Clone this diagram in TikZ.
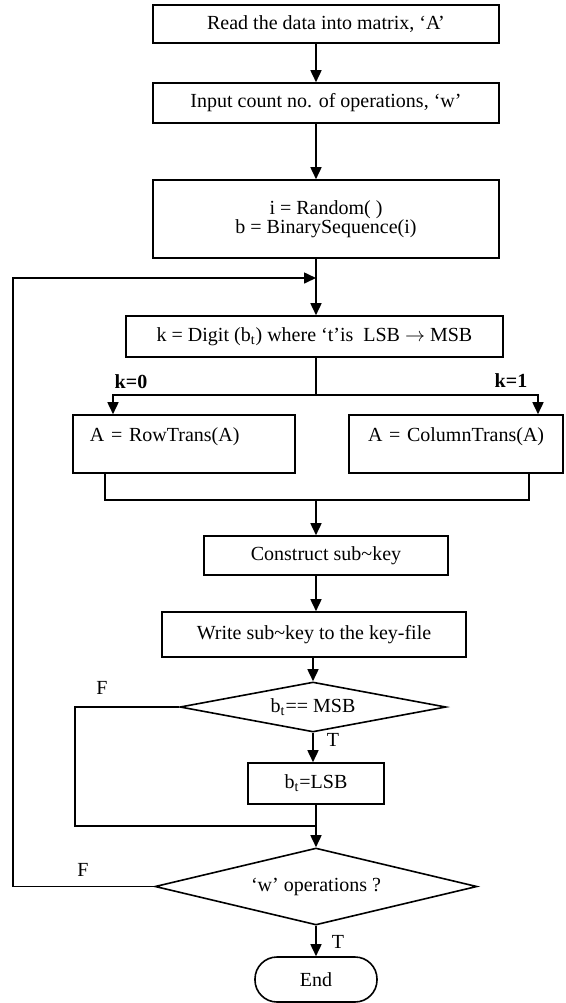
\documentclass[tikz,border=0pt]{standalone}
\usepackage{fontspec}
\setmainfont{Liberation Serif}
\usetikzlibrary{arrows.meta,shapes.geometric}
\tikzset{
    box/.style={draw, line width=0.8pt, inner sep=0pt},
    cond/.style={draw, diamond, line width=0.8pt, inner sep=0pt},
    trans/.style={draw, line width=0.8pt, inner ysep=3pt, text height=10pt, text depth=13pt, align=left},
    conn/.style={line width=0.8pt},
    arr/.style={conn, -{Triangle[length=6pt, width=5.5pt]}},
}
\begin{document}
\begin{tikzpicture}[x=0.5pt, y=-0.5pt]
    \useasboundingbox (0, 0) rectangle (566, 1003);

    \node[box, minimum width=173pt, minimum height=19pt] (read) at (326, 24) {Read the data into matrix, ‘A’};
    \node[box, minimum width=173pt, minimum height=20pt] (count) at (326, 103) {Input count no. of operations, ‘w’};
    \node[box, minimum width=173pt, minimum height=39pt, align=center] (rand) at (326, 219) {i = Random( )\\[-2.5pt]b = BinarySequence(i)};
    \node[box, minimum width=188.5pt, minimum height=20.5pt] (digit) at (314.5, 336.5) {k = Digit (b\textsubscript{t}) where ‘t’is\ \ LSB $\rightarrow$ MSB};
    \node[trans, text width=94pt, inner xsep=8.5pt] (row) at (184, 444) {\mbox{A = RowTrans(A)}};
    \node[trans, text width=88pt, inner xsep=9.5pt] (col) at (456, 444) {\mbox{A = ColumnTrans(A)}};
    \node[box, minimum width=122pt, minimum height=19.5pt] (construct) at (326, 555.5) {Construct sub\textasciitilde key};
    \node[box, minimum width=152pt, minimum height=22.5pt] (write) at (314, 634.5) {Write sub\textasciitilde key to the key-file};
    \node[cond, aspect=5.3, minimum width=133pt, minimum height=25pt] (msb) at (313, 707) {b\textsubscript{t}== MSB};
    \node[box, minimum width=68pt, minimum height=20.5pt] (lsb) at (316, 783.5) {b\textsubscript{t}=LSB};
    \node[cond, aspect=4.2, minimum width=161pt, minimum height=38.5pt] (ops) at (316, 886.5) {‘w’ operations ?};
    \node[box, rounded corners=11pt, minimum width=61pt, minimum height=22.5pt] (end) at (316, 979.5) {End};

    \node[font=\bfseries] (kzero) at (131, 382) {k=0};
    \node[font=\bfseries] (kone) at (511, 381) {k=1};
    \node (fmsb) at (102, 688) {F};
    \node (tmsb) at (333, 740) {T};
    \node (fops) at (83, 870) {F};
    \node (tops) at (338, 942) {T};

    \coordinate (spine) at (316, 0);
    \coordinate (split) at (316, 395);
    \coordinate (leftk) at (113, 395);
    \coordinate (rightk) at (538, 395);
    \coordinate (rowout) at (105, 500);
    \coordinate (colout) at (529, 500);
    \coordinate (merge) at (316, 500);
    \coordinate (rail) at (13, 278);
    \coordinate (looptop) at (316, 278);
    \coordinate (fleft) at (75, 826);
    \coordinate (fjoin) at (316, 826);

    \draw[arr] (read.south -| spine) -- (count.north -| spine);
    \draw[arr] (count.south -| spine) -- (rand.north -| spine);
    \draw[arr] (rand.south -| spine) -- (digit.north -| spine);
    \draw[arr] (ops.west) -| (rail) -- (looptop);
    \draw[conn] (digit.south -| spine) -- (split);
    \draw[arr] (split) -- (leftk) -- (leftk |- row.north);
    \draw[arr] (split) -- (rightk) -- (rightk |- col.north);
    \draw[conn] (rowout |- row.south) -- (rowout) -- (colout) -- (colout |- col.south);
    \draw[arr] (merge) -- (construct.north -| merge);
    \draw[arr] (construct.south -| spine) -- (write.north -| spine);
    \draw[arr] (write.south -| msb.north) -- (msb.north);
    \draw[arr] (msb.south) -- (lsb.north -| msb.south);
    \draw[conn] (msb.west) -| (fleft) -- (fjoin);
    \draw[arr] (lsb.south) -- (ops.north);
    \draw[arr] (ops.south) -- (end.north);
\end{tikzpicture}
\end{document}
